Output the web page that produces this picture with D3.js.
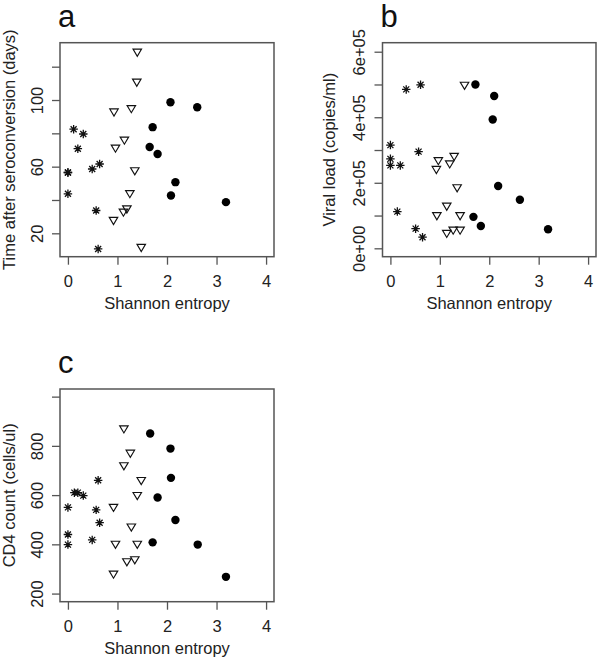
<!DOCTYPE html>
<html><head><meta charset="utf-8">
<script src="https://cdn.jsdelivr.net/npm/d3@7"></script>
<style>
html,body{margin:0;padding:0;background:#fff;}
svg{display:block;}
text{font-family:"Liberation Sans",Arial,Helvetica,sans-serif;fill:#222;}
</style></head>
<body><svg id="chart" width="600" height="659"></svg>
<script>
// ---- data (Shannon entropy, value) ----
const xTicks = [0, 1, 2, 3, 4];
const xLabel = "Shannon entropy";

const aTitle = "Time after seroconversion (days)";
const aTicks = [20, 40, 60, 80, 100, 120];
const aTickLabels = ["20", "", "60", "", "100", ""];
const aAsterisk = [[0.115,82.5],[0.31,79.6],[0.20,70.8],[0,56.5],[0,56.5],[0.49,58.6],[0.64,61.6],[0,43.7],[0.57,33.7],[0.61,10.6]];
const aTriangle = [[1.40,128.4],[1.39,110.4],[0.93,92.5],[1.28,94.5],[1.14,75.6],[0.96,70.8],[1.35,57.2],[1.25,43.5],[1.19,34.3],[1.12,32.4],[0.92,27.4],[1.48,11.2]];
const aCircle = [[2.07,98.7],[2.61,95.7],[1.71,83.7],[1.65,71.8],[1.81,67.6],[2.17,50.7],[2.08,42.7],[3.19,38.7]];

const bTitle = "Viral load (copies/ml)";
const bTicks = [0, 100000, 200000, 300000, 400000, 500000, 600000];
const bTickLabels = ["0e+00", "", "2e+05", "", "4e+05", "", "6e+05"];
const bAsterisk = [[0.32,485000],[0.61,499000],[0,315000],[0.57,295000],[0,273000],[0,253000],[0.20,253000],[0.14,112000],[0.51,60000],[0.65,34000]];
const bTriangle = [[1.50,496000],[0.97,266000],[1.29,279000],[1.20,256000],[0.93,239000],[1.35,183000],[1.14,127000],[0.94,98000],[1.41,98000],[1.14,44000],[1.27,54000],[1.41,54000]];
const bCircle = [[1.72,500000],[2.10,465000],[2.07,393000],[2.18,190000],[2.62,148000],[1.68,96000],[1.83,68000],[3.19,58000]];

const cTitle = "CD4 count (cells/ul)";
const cTicks = [200, 400, 600, 800, 1000];
const cTickLabels = ["200", "400", "600", "800", ""];
const cAsterisk = [[0,550],[0,440],[0,399],[0.13,610],[0.20,610],[0.31,598],[0.61,660],[0.57,540],[0.64,488],[0.49,418]];
const cTriangle = [[1.13,867],[1.26,768],[1.13,717],[1.48,657],[1.40,596],[0.92,548],[1.28,468],[0.96,398],[1.40,398],[1.35,335],[1.19,327],[0.92,277]];
const cCircle = [[1.66,850],[2.07,789],[2.08,670],[1.81,590],[2.17,499],[1.71,408],[2.62,399],[3.19,268]];

// ---- layout ----
const svg = d3.select("#chart");
const FS = 16.5;
const boxColor = "#555";

const asteriskSym = { draw(ctx, size) {
  const r = Math.sqrt(size) / 2, d = r * 0.7071;
  ctx.moveTo(-r, 0); ctx.lineTo(r, 0);
  ctx.moveTo(0, -r); ctx.lineTo(0, r);
  ctx.moveTo(-d, -d); ctx.lineTo(d, d);
  ctx.moveTo(-d, d); ctx.lineTo(d, -d);
}};
const triDownSym = { draw(ctx, size) {
  const w = Math.sqrt(size) / 2, h = w * 0.84;
  ctx.moveTo(-w, -h); ctx.lineTo(w, -h); ctx.lineTo(0, h); ctx.closePath();
}};

function panel(opt) {
  const {left, right, top, bottom, yDomain, ticks, tickLabels, title, letter, letterY, titleOff, ast, tri, cir} = opt;
  const g = svg.append("g");
  const x = d3.scaleLinear().domain([-0.16, 4.16]).range([left, right]);
  const y = d3.scaleLinear().domain(yDomain).range([bottom, top]);

  // x axis
  const xa = g.append("g").attr("transform", `translate(0,${bottom})`)
    .call(d3.axisBottom(x).tickValues(xTicks).tickFormat(d3.format("d")).tickSize(8).tickSizeOuter(0));
  xa.select(".domain").remove();
  xa.selectAll(".tick line").attr("stroke", boxColor).attr("stroke-width", 1.3);
  xa.selectAll(".tick text").attr("y", 30).attr("dy", 0).attr("font-size", FS).style("fill", "#222");

  // y axis
  const ya = g.append("g").attr("transform", `translate(${left},0)`)
    .call(d3.axisLeft(y).tickValues(ticks).tickFormat((d, i) => tickLabels[i]).tickSize(8).tickSizeOuter(0));
  ya.select(".domain").remove();
  ya.selectAll(".tick line").attr("stroke", boxColor).attr("stroke-width", 1.3);
  ya.selectAll(".tick text").attr("x", null).attr("dy", 0).attr("text-anchor", "middle")
    .attr("transform", "translate(-17.5,0) rotate(-90)").attr("font-size", FS).style("fill", "#222");

  // box
  g.append("rect").attr("x", left).attr("y", top).attr("width", right - left).attr("height", bottom - top)
    .attr("fill", "none").attr("stroke", boxColor).attr("stroke-width", 1.5);

  // titles
  g.append("text").attr("x", (left + right) / 2).attr("y", bottom + 52.5).attr("text-anchor", "middle")
    .attr("font-size", FS).text(xLabel);
  g.append("text").attr("transform", `translate(${left - titleOff},${(top + bottom) / 2}) rotate(-90)`)
    .attr("text-anchor", "middle").attr("font-size", FS).text(title);
  g.append("text").attr("x", left - 2).attr("y", letterY).attr("font-size", 31).style("fill", "#111").text(letter);

  // points
  g.selectAll(".ast").data(ast).join("path")
    .attr("d", d3.symbol().type(asteriskSym).size(72))
    .attr("transform", d => `translate(${x(d[0])},${y(d[1])})`)
    .attr("fill", "none").attr("stroke", "#111").attr("stroke-width", 1.3);
  g.selectAll(".tri").data(tri).join("path")
    .attr("d", d3.symbol().type(triDownSym).size(72))
    .attr("transform", d => `translate(${x(d[0])},${y(d[1])})`)
    .attr("fill", "none").attr("stroke", "#111").attr("stroke-width", 1.15);
  g.selectAll(".cir").data(cir).join("circle")
    .attr("cx", d => x(d[0])).attr("cy", d => y(d[1])).attr("r", 4.2)
    .attr("fill", "#000");
}

panel({left: 60, right: 274, top: 42.7, bottom: 256.7, yDomain: [5.96, 134.4], ticks: aTicks, tickLabels: aTickLabels,
  title: aTitle, letter: "a", letterY: 26.5, titleOff: 45, ast: aAsterisk, tri: aTriangle, cir: aCircle});
panel({left: 382.5, right: 596, top: 42.7, bottom: 256.7, yDomain: [-25600, 627500], ticks: bTicks, tickLabels: bTickLabels,
  title: bTitle, letter: "b", letterY: 26.5, titleOff: 48, ast: bAsterisk, tri: bTriangle, cir: bCircle});
panel({left: 60, right: 274, top: 389, bottom: 601.7, yDomain: [167, 1031], ticks: cTicks, tickLabels: cTickLabels,
  title: cTitle, letter: "c", letterY: 373, titleOff: 45, ast: cAsterisk, tri: cTriangle, cir: cCircle});
</script>
</body></html>
